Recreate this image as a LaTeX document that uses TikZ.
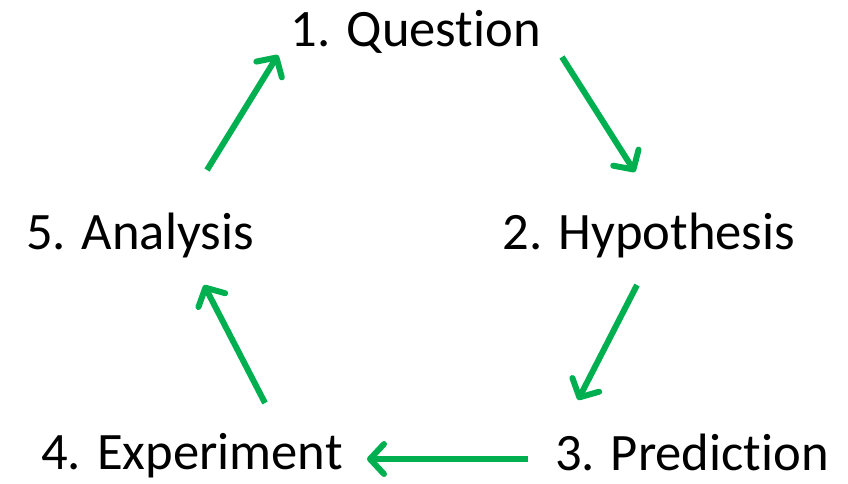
\documentclass[tikz,border=0pt]{standalone}
\usepackage{fontspec}
\setmainfont{Carlito}[Ligatures=NoCommon]
\usetikzlibrary{arrows.meta}
\definecolor{stepgreen}{HTML}{00B050}
\begin{document}
\begin{tikzpicture}[x=1pt,y=-1pt]
        \useasboundingbox (0,0) rectangle (848,483);
        \begin{scope}[every node/.style={anchor=base,inner sep=0pt,font=\fontsize{52.6}{60}\selectfont}]
            \node (q) at (416,46) {1. Quest\kern0pt ion};
            \node (h) at (649,249) {2. Hypothesis};
            \node (p) at (692,470) {3. Predict\kern0pt ion};
            \node (e) at (192,469) {4. Experiment};
            \node (a) at (140,249) {5. Analysis};
        \end{scope}
        \coordinate (q1) at (562,57);  \coordinate (h0) at (635,172);
        \coordinate (h1) at (637,285); \coordinate (p0) at (578,400);
        \coordinate (p1) at (528,459); \coordinate (e0) at (367,459);
        \coordinate (e1) at (265,403); \coordinate (a0) at (204,285);
        \coordinate (a1) at (207,170); \coordinate (q0) at (278,55);
        \begin{scope}[line width=6pt,stepgreen,-{Straight Barb[length=14pt,width=30pt,round]}]
            \draw (q1)--(h0);
            \draw (h1)--(p0);
            \draw (p1)--(e0);
            \draw (e1)--(a0);
            \draw (a1)--(q0);
        \end{scope}
    \end{tikzpicture}
\end{document}
